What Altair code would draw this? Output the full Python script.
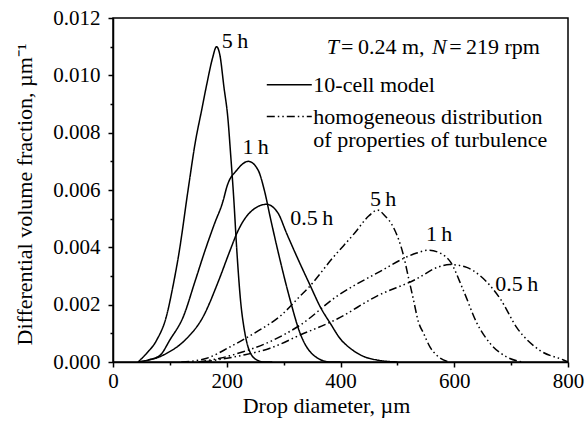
import altair as alt
import pandas as pd

# ---- data ----
cell5_x = [44, 59, 77, 94, 105, 116, 132, 145, 156, 165, 175, 182, 188, 195, 202, 207, 212, 218, 224, 232, 242, 255, 265, 280]
cell5_y = [0, 0.0003, 0.00077, 0.0016, 0.0026, 0.0038, 0.006, 0.0077, 0.0088, 0.0097, 0.0106, 0.0110, 0.0107, 0.0096, 0.0085, 0.0072, 0.0058, 0.0038, 0.0022, 0.001, 0.0003, 0.00005, 0, 0]

cell1_x = [44, 62, 83, 100, 124, 144, 162, 178, 194, 200, 218, 238, 255, 266, 277, 292, 311, 329, 355, 382, 400]
cell1_y = [0, 0.00007, 0.00024, 0.00077, 0.0016, 0.0028, 0.0039, 0.0048, 0.00565, 0.0061, 0.0067, 0.0070, 0.0067, 0.006, 0.005, 0.0037, 0.0022, 0.001, 0.0002, 0, 0]

cell05_x = [44, 65, 83, 94, 127, 159, 185, 206, 218, 240, 270, 290, 305, 325, 346, 365, 382, 400, 417, 440, 464, 500]
cell05_y = [0, 0.00008, 0.00019, 0.0003, 0.00077, 0.0016, 0.0028, 0.0039, 0.0045, 0.0052, 0.0055, 0.0052, 0.0045, 0.0036, 0.0027, 0.0019, 0.00135, 0.0008, 0.00048, 0.0002, 0.00007, 0]

hom5_x = [120, 135, 165, 206, 253, 294, 329, 344, 385, 425, 450, 465, 478, 493, 511, 520, 528, 537, 546, 558, 569, 590]
hom5_y = [0, 0.00002, 0.00013, 0.00053, 0.00106, 0.0016, 0.0023, 0.0026, 0.0036, 0.0045, 0.0051, 0.0053, 0.0051, 0.0047, 0.0037, 0.0029, 0.0022, 0.0014, 0.001, 0.0005, 0.00024, 0]

hom1_x = [150, 188, 229, 276, 330, 394, 464, 534, 555, 575, 593, 616, 640, 663, 692, 720]
hom1_y = [0, 0.00013, 0.00036, 0.00071, 0.0013, 0.0023, 0.0031, 0.0038, 0.0039, 0.0038, 0.0035, 0.0025, 0.00135, 0.00065, 0.00018, 0]

hom05_x = [160, 182, 229, 276, 329, 394, 464, 534, 570, 592, 622, 646, 681, 710, 751, 792, 800]
hom05_y = [0, 0.00007, 0.00024, 0.00048, 0.00094, 0.0015, 0.0023, 0.0029, 0.0033, 0.0034, 0.0033, 0.0030, 0.0022, 0.0012, 0.0004, 0.00007, 0]

x_major = [0, 200, 400, 600, 800]
x_minor = [100, 300, 500, 700]
y_major = [0, 0.002, 0.004, 0.006, 0.008, 0.010, 0.012]
y_minor = [0.001, 0.003, 0.005, 0.007, 0.009, 0.011]

curve_labels = ["5\u2009h", "1\u2009h", "0.5\u2009h", "5\u2009h", "1\u2009h", "0.5\u2009h"]
label_x = [214.6, 250.7, 349.5, 475, 573.4, 710]
label_y = [0.0112, 0.0075, 0.00504, 0.00569, 0.00447, 0.00272]

FONT = "Liberation Serif"
FS = 22
TFS = 21

rows = []
for name, model, xs, ys in [
    ("c5", "cell", cell5_x, cell5_y),
    ("c1", "cell", cell1_x, cell1_y),
    ("c05", "cell", cell05_x, cell05_y),
    ("h5", "hom", hom5_x, hom5_y),
    ("h1", "hom", hom1_x, hom1_y),
    ("h05", "hom", hom05_x, hom05_y),
]:
    for i, (a, b) in enumerate(zip(xs, ys)):
        rows.append({"series": name, "model": model, "x": a, "y": b, "o": i})
df = pd.DataFrame(rows)

xs = alt.Scale(domain=[0, 800], nice=False, zero=False)
ys = alt.Scale(domain=[0, 0.012], nice=False, zero=False)
DASH = [8, 3, 1.5, 3, 1.5, 3]

lines = alt.Chart(df).mark_line(color="black", strokeWidth=1.5, interpolate="monotone").encode(
    x=alt.X("x:Q", scale=xs,
            axis=alt.Axis(values=x_major, title="Drop diameter, µm", orient="bottom",
                          labelFont=FONT, labelFontSize=TFS, titleFont=FONT, titleFontSize=FS,
                          titleFontWeight="normal", labelColor="black", titleColor="black",
                          tickColor="black", domainColor="black", domainWidth=1.5, tickWidth=1.5,
                          tickSize=5, labelPadding=3, titlePadding=4, grid=False,
                          titleX=213, labelFlush=False)),
    y=alt.Y("y:Q", scale=ys,
            axis=alt.Axis(values=y_major, format=".3f", title="Differential volume fraction, µm⁻¹",
                          orient="left",
                          labelFont=FONT, labelFontSize=TFS, titleFont=FONT, titleFontSize=FS,
                          titleFontWeight="normal", labelColor="black", titleColor="black",
                          tickColor="black", domainColor="black", domainWidth=1.5, tickWidth=1.5,
                          tickSize=5, labelPadding=8, titlePadding=16, grid=False, labelFlush=False,
                          titleY=176)),
    strokeDash=alt.StrokeDash("model:N",
                              scale=alt.Scale(domain=["cell", "hom"], range=[[1, 0], DASH]),
                              legend=None),
    detail="series:N",
    order="o:Q",
)

minor = alt.Chart(pd.DataFrame({"x": [0], "y": [0]})).mark_point(opacity=0).encode(
    x=alt.X("x:Q", scale=xs,
            axis=alt.Axis(values=x_minor, labels=False, title=None, orient="bottom", domain=False,
                          tickColor="black", tickWidth=1.5, tickSize=3, grid=False)),
    y=alt.Y("y:Q", scale=ys,
            axis=alt.Axis(values=y_minor, labels=False, title=None, orient="left", domain=False,
                          tickColor="black", tickWidth=1.5, tickSize=3, grid=False)),
)

lab_df = pd.DataFrame({"t": curve_labels, "x": label_x, "y": label_y})
labels = alt.Chart(lab_df).mark_text(font=FONT, fontSize=FS, color="black", align="center", baseline="middle").encode(
    x=alt.X("x:Q", scale=xs, axis=None), y=alt.Y("y:Q", scale=ys, axis=None), text="t:N"
)

# header: T=0.24 m, N=219 rpm
hdr_text = ["T", "=\u20090.24 m,", "N", "=\u2009219 rpm"]
hdr_x = [375.9, 401.0, 561.0, 591.0]
hdr_style = ["italic", "normal", "italic", "normal"]
hdr_df = pd.DataFrame({"t": hdr_text, "x": hdr_x, "y": [0.0110] * 4, "s": hdr_style})
hdr_it = alt.Chart(hdr_df[hdr_df.s == "italic"]).mark_text(font=FONT, fontSize=FS, fontStyle="italic", color="black",
                                                         align="left", baseline="middle").encode(
    x=alt.X("x:Q", scale=xs, axis=None), y=alt.Y("y:Q", scale=ys, axis=None), text="t:N")
hdr_no = alt.Chart(hdr_df[hdr_df.s == "normal"]).mark_text(font=FONT, fontSize=FS, color="black",
                                                         align="left", baseline="middle").encode(
    x=alt.X("x:Q", scale=xs, axis=None), y=alt.Y("y:Q", scale=ys, axis=None), text="t:N")

# legend
leg_model = ["cell", "hom"]
leg_y = [0.00967, 0.00856]
leg_x0 = [270.4, 270.4]
leg_x1 = [349.5, 349.5]
leg_df = pd.DataFrame({"model": leg_model, "y": leg_y, "x": leg_x0, "x2": leg_x1})
leg_lines = alt.Chart(leg_df).mark_rule(color="black", strokeWidth=1.5).encode(
    x=alt.X("x:Q", scale=xs, axis=None), x2="x2:Q", y=alt.Y("y:Q", scale=ys, axis=None),
    strokeDash=alt.StrokeDash("model:N",
                              scale=alt.Scale(domain=["cell", "hom"], range=[[1, 0], DASH]),
                              legend=None),
)
leg_text = ["10-cell model", "homogeneous distribution", "of properties of turbulence"]
leg_tx = [352.3, 352.3, 352.3]
leg_ty = [0.00967, 0.00856, 0.00775]
legt_df = pd.DataFrame({"t": leg_text, "x": leg_tx, "y": leg_ty})
leg_labels = alt.Chart(legt_df).mark_text(font=FONT, fontSize=FS, color="black", align="left", baseline="middle").encode(
    x=alt.X("x:Q", scale=xs, axis=None), y=alt.Y("y:Q", scale=ys, axis=None), text="t:N")

chart = alt.layer(lines, minor, labels, hdr_it, hdr_no, leg_lines, leg_labels).resolve_axis(
    x="independent", y="independent"
).properties(
    width=455, height=344,
    autosize=alt.AutoSizeParams(type="none"),
    padding={"left": 113, "top": 18, "right": 18, "bottom": 65},
    background="white",
).configure_view(stroke="black", strokeWidth=1.5)

chart.save("out.html", embed_options={"renderer": "svg", "actions": False})
